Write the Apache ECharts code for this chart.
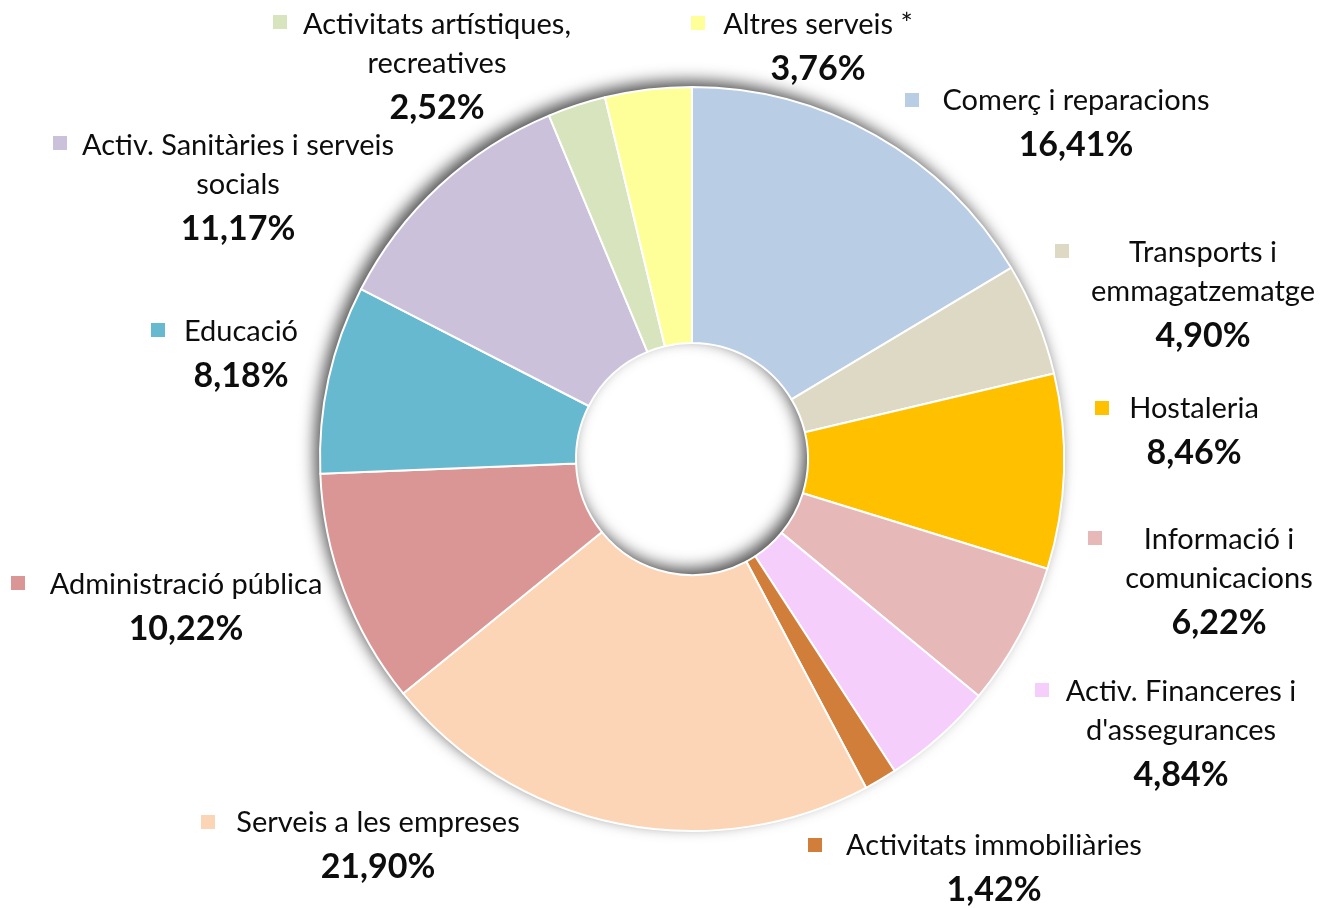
<!DOCTYPE html>
<html>
<head>
<meta charset="utf-8">
<script src="https://cdn.jsdelivr.net/npm/echarts@6/dist/echarts.min.js"></script>
<style>
  html, body { margin: 0; padding: 0; background: #fff; }
  #chart { width: 1321px; height: 908px; }
</style>
</head>
<body>
<div id="chart"></div>
<script>
// Sectors, clockwise from 12 o'clock
const categories = [
  'Comerç i reparacions',
  'Transports i\nemmagatzematge',
  'Hostaleria',
  'Informació i\ncomunicacions',
  'Activ. Financeres i\nd\'assegurances',
  'Activitats immobiliàries',
  'Serveis a les empreses',
  'Administració pública',
  'Educació',
  'Activ. Sanitàries i serveis\nsocials',
  'Activitats artístiques,\nrecreatives',
  'Altres serveis *'
];
const shares = [16.41, 4.90, 8.46, 6.22, 4.84, 1.42, 21.90, 10.22, 8.18, 11.17, 2.52, 3.76];
const colors = [
  '#B9CDE5', '#DDD9C4', '#FFC000', '#E6B9B8', '#F5CEFB', '#D07E3A',
  '#FBD5B5', '#D99694', '#66B9CF', '#CCC1DA', '#D7E4BD', '#FFFF99'
];

// Hand-placed label anchors: text block centre x / first-line centre y, and legend square centre
const textAnchor = [
  [1076, 101], [1203, 253], [1194, 409], [1219, 540], [1181, 692], [994, 846],
  [378, 823], [186, 585], [241, 332], [238, 146], [437, 25], [818, 25]
];
const markAnchor = [
  [912, 100], [1062, 251], [1102, 408], [1095, 538], [1042, 690], [815, 845],
  [208, 822], [18, 583], [158, 330], [60, 143], [280, 22], [698, 23]
];

const CENTER = [692, 459];
const RADIUS = [116, 372];
const NAME_LH = 39;

const fmtPct = v => v.toFixed(2).replace('.', ',') + '%';

const chart = echarts.init(document.getElementById('chart'), null, { renderer: 'canvas' });

chart.setOption({
  backgroundColor: '#ffffff',
  animation: false,
  textStyle: { fontFamily: 'Lato, "Open Sans", sans-serif' },
  series: [
    // Base ring carrying the soft drop shadow
    {
      type: 'pie',
      silent: true,
      center: CENTER,
      radius: RADIUS,
      z: 1,
      label: { show: false },
      labelLine: { show: false },
      itemStyle: {
        color: '#ffffff',
        shadowBlur: 16,
        shadowOffsetX: -5,
        shadowOffsetY: -6,
        shadowColor: 'rgba(0,0,0,0.7)'
      },
      data: [{ value: 1 }]
    },
    // Sectors with their names and percentages
    {
      type: 'pie',
      center: CENTER,
      radius: RADIUS,
      startAngle: 90,
      clockwise: true,
      z: 2,
      avoidLabelOverlap: false,
      itemStyle: { borderColor: '#ffffff', borderWidth: 2 },
      labelLine: { show: false },
      label: {
        show: true,
        position: 'outside',
        color: '#0d0d0d',
        formatter: p => {
          const lines = categories[p.dataIndex].split('\n').map(s => '{n|' + s + '}');
          lines.push('{p|' + fmtPct(p.value) + '}');
          return lines.join('\n');
        },
        rich: {
          n: { fontSize: 29, lineHeight: NAME_LH, color: '#0d0d0d', fontFamily: 'Lato' },
          p: { fontSize: 34, lineHeight: 50, fontWeight: 'bold', color: '#0d0d0d', fontFamily: 'Lato' }
        }
      },
      labelLayout: p => ({
        x: textAnchor[p.dataIndex][0],
        y: textAnchor[p.dataIndex][1] - NAME_LH / 2,
        align: 'center',
        verticalAlign: 'top',
        hideOverlap: false
      }),
      data: categories.map((c, i) => ({ name: c, value: shares[i], itemStyle: { color: colors[i] } }))
    },
    // Legend squares beside each label
    {
      type: 'pie',
      silent: true,
      center: CENTER,
      radius: RADIUS,
      startAngle: 90,
      clockwise: true,
      z: 3,
      avoidLabelOverlap: false,
      itemStyle: { color: 'rgba(0,0,0,0)', borderWidth: 0 },
      labelLine: { show: false },
      label: { show: true, position: 'outside', formatter: '{m|}' },
      labelLayout: p => ({
        x: markAnchor[p.dataIndex][0],
        y: markAnchor[p.dataIndex][1],
        align: 'center',
        verticalAlign: 'middle',
        hideOverlap: false
      }),
      data: categories.map((c, i) => ({
        name: c,
        value: shares[i],
        label: { rich: { m: { width: 14, height: 14, backgroundColor: colors[i] } } }
      }))
    }
  ]
});
</script>
</body>
</html>
